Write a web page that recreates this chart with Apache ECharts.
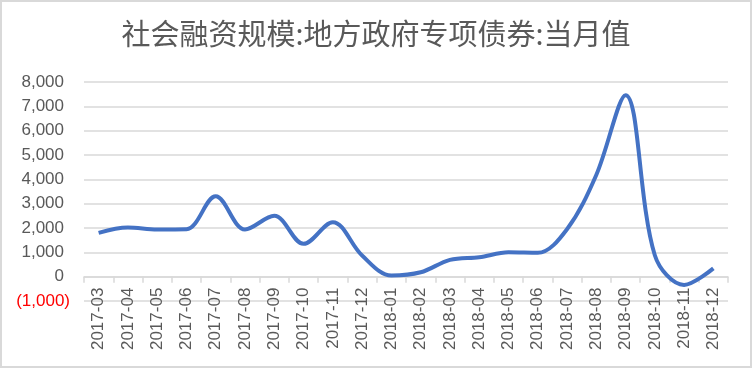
<!DOCTYPE html>
<html>
<head>
<meta charset="utf-8">
<script src="https://cdn.jsdelivr.net/npm/echarts@6/dist/echarts.min.js"></script>
<style>
html,body{margin:0;padding:0;background:#fff;}
#c{width:748px;height:364px;border:2px solid #d9d9d9;}
</style>
</head>
<body>
<div id="c"></div>
<script>
const categories = ['2017-03','2017-04','2017-05','2017-06','2017-07','2017-08','2017-09','2017-10','2017-11','2017-12','2018-01','2018-02','2018-03','2018-04','2018-05','2018-06','2018-07','2018-08','2018-09','2018-10','2018-11','2018-12'];
const values = [1800,2020,1940,1950,3300,1940,2500,1350,2240,870,50,180,690,800,1000,980,1950,4180,7460,880,-340,340];
const titleText = '社会融资规模:地方政府专项债券:当月值';
const yMin = -1000, yMax = 8000;

const gridTop = 80, gridBottom = 65, H = 364;
const plotH = H - gridTop - gridBottom;
const zeroOffset = -plotH * (0 - yMin) / (yMax - yMin);

const chart = echarts.init(document.getElementById('c'));
chart.setOption({
  animation:false,
  title:{text:titleText,left:'center',top:12,textStyle:{color:'#595959',fontSize:29,fontWeight:'normal',fontFamily:'Noto Sans CJK SC'}},
  grid:{left:82,right:22,top:gridTop,bottom:gridBottom,containLabel:false,outerBoundsMode:'none'},
  xAxis:{type:'category',data:categories,boundaryGap:true,offset:zeroOffset,
    axisLine:{onZero:false,lineStyle:{color:'#d9d9d9',width:1.5}},
    axisTick:{show:true,alignWithLabel:false,length:6,lineStyle:{color:'#d9d9d9',width:1.5}},
    axisLabel:{rotate:90,interval:0,margin:11,color:'#595959',fontSize:17,fontFamily:'Liberation Sans'}},
  yAxis:{type:'value',min:yMin,max:yMax,interval:1000,
    axisLine:{show:false},axisTick:{show:false},
    splitLine:{lineStyle:{color:'#d9d9d9',width:1.5}},
    axisLabel:{margin:14,fontFamily:'Liberation Sans',fontSize:17,
      formatter:function(v){
        if(v<0) return '{n|(' + Math.abs(v).toLocaleString('en-US') + ')}';
        return '{p|' + v.toLocaleString('en-US') + '}';
      },
      rich:{p:{color:'#595959',fontSize:17,fontFamily:'Liberation Sans',padding:[0,6,0,0]},
            n:{color:'#ff0000',fontSize:17,fontFamily:'Liberation Sans'}}}},
  series:[{type:'line',data:values,smooth:0.35,symbol:'none',lineStyle:{color:'#4472C4',width:4}}]
});
</script>
</body>
</html>
